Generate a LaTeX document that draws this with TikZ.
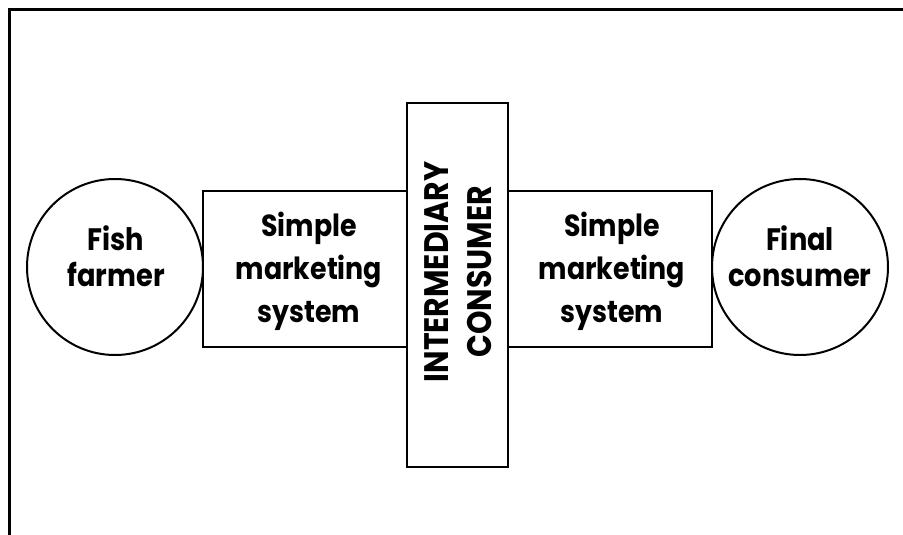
\documentclass[tikz,border=0pt]{standalone}
\usepackage{fontspec}
\setmainfont{Poppins}
\newfontfamily\labelfont{Poppins}[FakeStretch=0.88]
\begin{document}
\begin{tikzpicture}[x=1pt,y=-1pt,
  shape line/.style={draw=black, line width=2pt},
  endpoint/.style={shape line, circle, minimum size=176pt, inner sep=0pt},
  endtext/.style={align=center, inner sep=0pt, font=\labelfont\bfseries\fontsize{31}{36}\selectfont},
  market/.style={shape line, rectangle, minimum width=204pt, minimum height=156pt, inner sep=0pt},
  boxtext/.style={align=center, inner sep=0pt, font=\labelfont\bfseries\fontsize{30.5}{43}\selectfont},
  columntext/.style={align=center, inner sep=0pt, rotate=90, font=\labelfont\bfseries\fontsize{34}{43}\selectfont}]
\useasboundingbox (0,0) rectangle (903,535);
% open frame: left side and top only
\draw[line width=3pt] (9,536) -- (9,10) -- (904,10);

% left and right marketing boxes
\node[market] (m1) at (305,269) {};
\node[market] (m2) at (610,268.5) {};
% intermediary consumer column
\node[shape line, rectangle, fill=white, minimum width=101pt, minimum height=364pt, inner sep=0pt] (ic) at (457.5,285) {};
\node[columntext] (ict) at (458,272) {INTERMEDIARY\\CONSUMER};

\node[boxtext] (m1t) at (309,271) {Simple\\marketing\\system};
\node[boxtext] (m2t) at (612,271) {Simple\\marketing\\system};

% producer and consumer
\node[endpoint, fill=white] (ff) at (115,267) {};
\node[endpoint, fill=white] (fc) at (800,267) {};
\node[endtext] (fft) at (116,256) {Fish\\farmer};
\node[endtext] (fct) at (800,256) {Final\\consumer};
\end{tikzpicture}
\end{document}
